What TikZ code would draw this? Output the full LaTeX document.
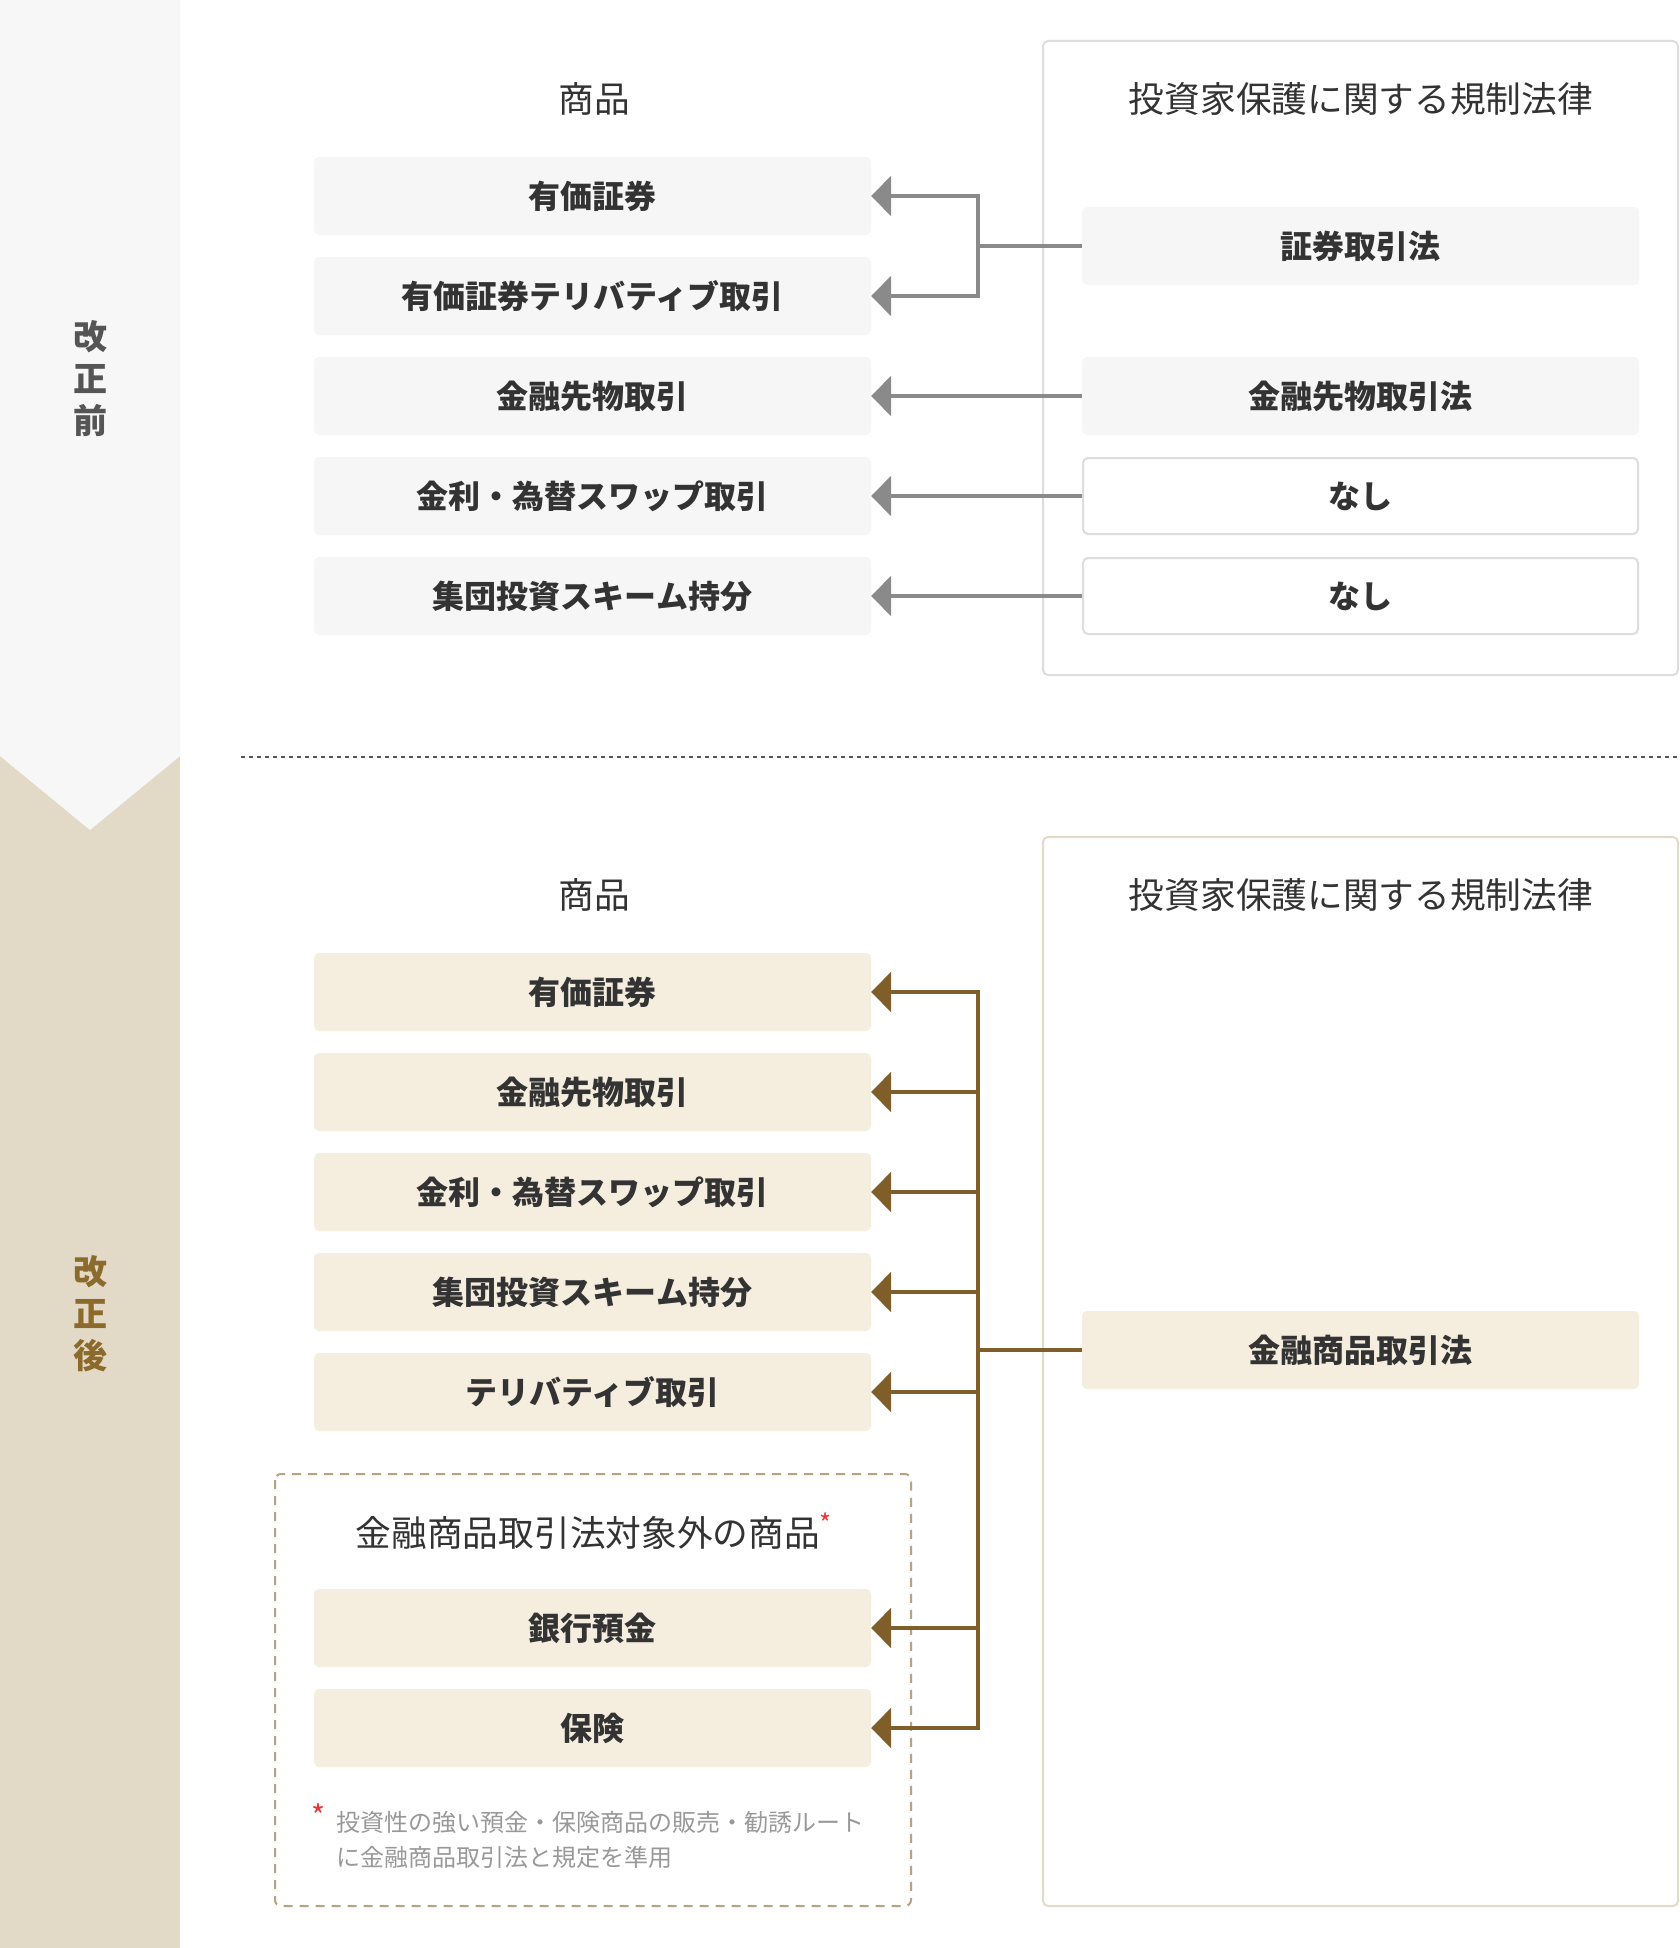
\documentclass[tikz,border=0pt]{standalone}
\usepackage{fontspec}
\setmainfont{Noto Sans CJK JP}
\usetikzlibrary{arrows.meta}
\definecolor{bandgray}{HTML}{F7F7F7}
\definecolor{bandtan}{HTML}{E2D9C7}
\definecolor{boxgray}{HTML}{F6F6F6}
\definecolor{boxtan}{HTML}{F5EDDE}
\definecolor{txt}{HTML}{333333}
\definecolor{lblgray}{HTML}{555555}
\definecolor{lblbrown}{HTML}{8C6A2C}
\definecolor{arrgray}{HTML}{8A8A8A}
\definecolor{arrbrown}{HTML}{7F5E29}
\definecolor{panelgray}{HTML}{DDDDDD}
\definecolor{paneltan}{HTML}{E3DBC9}
\definecolor{dashtan}{HTML}{B5A382}
\definecolor{notegray}{HTML}{999999}
\definecolor{astred}{HTML}{E53935}
\tikzset{
  prodbox/.style={rounded corners=5pt, minimum width=557pt, minimum height=78pt, inner sep=0pt,
    text=txt, font=\fontsize{32}{36}\selectfont\bfseries},
  graybox/.style={prodbox, fill=boxgray},
  tanbox/.style={prodbox, fill=boxtan},
  nashibox/.style={prodbox, fill=white, draw=panelgray, line width=2pt, minimum width=555pt, minimum height=76pt},
  hdr/.style={text=txt, font=\fontsize{35.7}{42}\selectfont},
  sidelbl/.style={font=\fontsize{34}{36}\selectfont\bfseries},
  garrow/.style={draw=arrgray, line width=3.5pt, -{Triangle[length=20pt,width=40pt]}},
  gline/.style={draw=arrgray, line width=3.5pt},
  barrow/.style={draw=arrbrown, line width=3.5pt, -{Triangle[length=20pt,width=40pt]}},
  bline/.style={draw=arrbrown, line width=3.5pt},
}
\begin{document}
\begin{tikzpicture}[x=1pt,y=-1pt]
\useasboundingbox (0,0) rectangle (1680,1948);
\fill[white] (0,0) rectangle (1680,1948);
% side band
\fill[bandtan] (0,0) rectangle (180,1948);
\fill[bandgray] (0,0) -- (180,0) -- (180,756) -- (90,830) -- (0,756) -- cycle;
\node[sidelbl, text=lblgray] (s1) at (90,337) {改};
\node[sidelbl, text=lblgray] (s2) at (90,379) {正};
\node[sidelbl, text=lblgray] (s3) at (90,421) {前};
\node[sidelbl, text=lblbrown] (s4) at (90,1272) {改};
\node[sidelbl, text=lblbrown] (s5) at (90,1314) {正};
\node[sidelbl, text=lblbrown] (s6) at (90,1356) {後};

% ---------- before ----------
\draw[panelgray, line width=2pt, rounded corners=5pt] (1043,41) rectangle (1678,675);
\node[hdr] (h1) at (594,99) {商品};
\node[hdr] (h2) at (1361,99) {投資家保護に関する規制法律};

\node[graybox] (p1) at (592.5,196) {有価証券};
\node[graybox] (p2) at (592.5,296) {有価証券テリバティブ取引};
\node[graybox] (p3) at (592.5,396) {金融先物取引};
\node[graybox] (p4) at (592.5,496) {金利・為替スワップ取引};
\node[graybox] (p5) at (592.5,596) {集団投資スキーム持分};

\node[graybox] (l1) at (1360.5,246) {証券取引法};
\node[graybox] (l2) at (1360.5,396) {金融先物取引法};
\node[nashibox] (l3) at (1360.5,496) {なし};
\node[nashibox] (l4) at (1360.5,596) {なし};

\coordinate (jt) at (978,246);
\draw[gline] (l1.west) -- (jt);
\draw[garrow] (jt) |- (p1.east);
\draw[garrow] (jt) |- (p2.east);
\draw[garrow] (l2.west) -- (p3.east);
\draw[garrow] (l3.west) -- (p4.east);
\draw[garrow] (l4.west) -- (p5.east);

% separator
\draw[lblgray, line width=2pt, dash pattern=on 4pt off 4pt] (241,757) -- (1680,757);

% ---------- after ----------
\draw[paneltan, line width=2pt, rounded corners=5pt] (1043,837) rectangle (1678,1906);
\node[hdr] (h3) at (594,895) {商品};
\node[hdr] (h4) at (1361,895) {投資家保護に関する規制法律};

\node[tanbox] (q1) at (592.5,992) {有価証券};
\node[tanbox] (q2) at (592.5,1092) {金融先物取引};
\node[tanbox] (q3) at (592.5,1192) {金利・為替スワップ取引};
\node[tanbox] (q4) at (592.5,1292) {集団投資スキーム持分};
\node[tanbox] (q5) at (592.5,1392) {テリバティブ取引};

\draw[dashtan, line width=2pt, rounded corners=6pt, dash pattern=on 9pt off 7pt] (275,1474) rectangle (911,1906);
\node[hdr] (h5) at (594,1531) {金融商品取引法対象外の商品\textcolor{astred}{\raisebox{0.35em}{\fontsize{26}{26}\selectfont *}}};
\node[tanbox] (q6) at (592.5,1628) {銀行預金};
\node[tanbox] (q7) at (592.5,1728) {保険};
\node[text=astred, font=\fontsize{30}{30}\selectfont, inner sep=0pt] (fa) at (319,1816) {*};
\node[anchor=west, align=left, text=notegray, font=\fontsize{24}{35}\selectfont, inner sep=0pt] (fn) at (336,1840)
  {投資性の強い預金・保険商品の販売・勧誘ルート\\に金融商品取引法と規定を準用};

\node[tanbox] (m1) at (1360.5,1350) {金融商品取引法};

\coordinate (jb) at (978,1350);
\draw[bline] (m1.west) -- (jb);
\foreach \q in {q1,q2,q3,q4,q5,q6,q7} {
  \draw[barrow] (jb) |- (\q.east);
}
\end{tikzpicture}
\end{document}
